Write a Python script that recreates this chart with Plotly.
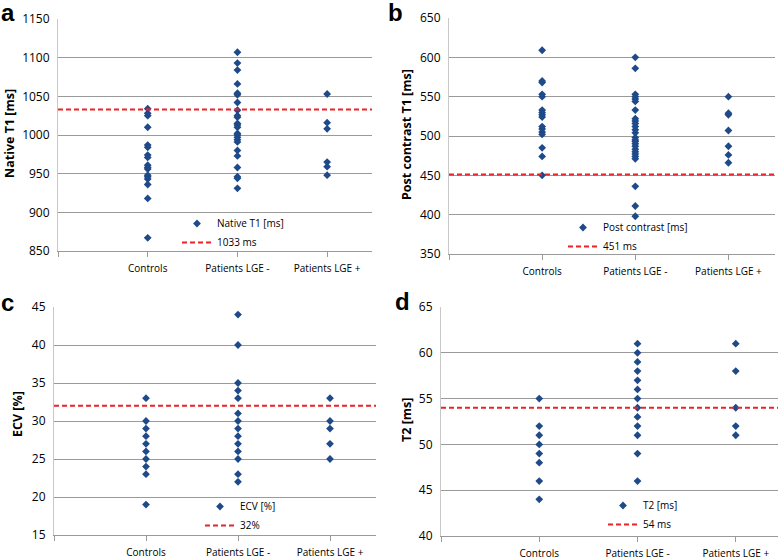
import plotly.graph_objects as go

W, H = 778, 559

categories = ["Controls", "Patients LGE -", "Patients LGE +"]

# Panel a: Native T1 [ms]
native_controls = [1034, 1028, 1025, 1010, 987, 984, 974, 971, 961, 958, 956, 948, 946, 943, 936, 918, 867]
native_lge_neg = [1107, 1093, 1084, 1066, 1054, 1052, 1042, 1032, 1025, 1023, 1015, 1013, 1010,
                  1002, 1000, 997, 994, 991, 980, 973, 958, 946, 944, 931]
native_lge_pos = [1053, 1016, 1008, 965, 959, 948]
native_cutoff = 1033

# Panel b: Post contrast T1 [ms]
post_controls = [609, 570, 568, 553, 550, 533, 530, 527, 524, 512, 509, 505, 502, 485, 474, 450]
post_lge_neg = [600, 586, 553, 550, 547, 544, 533, 522, 519, 516, 512, 508, 504, 498, 495, 493,
                490, 487, 483, 480, 477, 474, 471, 436, 411, 398]
post_lge_pos = [550, 529, 527, 507, 487, 476, 466]
post_cutoff = 451

# Panel c: ECV [%]
ecv_controls = [33, 30, 29, 28, 27, 26, 25, 24, 23, 19]
ecv_lge_neg = [44, 40, 35, 34, 33, 31, 30, 29, 28, 27, 26, 25, 23, 22]
ecv_lge_pos = [33, 30, 29, 27, 25]
ecv_cutoff = 32

# Panel d: T2 [ms]
t2_controls = [55, 52, 51, 50, 49, 48, 46, 44]
t2_lge_neg = [61, 60, 59, 58, 57, 56, 55, 54, 53, 52, 51, 49, 46]
t2_lge_pos = [61, 58, 54, 52, 51]
t2_cutoff = 54

MARKER = "#1f4a8a"
RED = "#e8242a"
GRID = "#9a9a9a"
FONT = "Open Sans"


def px_x(p):
    return p / W


def px_y(p):
    return 1 - p / H


panels = [
    dict(groups=[native_controls, native_lge_neg, native_lge_pos], cutoff=native_cutoff,
         name="Native T1 [ms]", cutname="1033 ms", ytitle="Native T1 [ms]",
         xdom=(58, 372), ydom=(19, 251), yr=(850, 1150), dt=50, xr=3.5,
         leg=(177, 209), title_x=9, title_y=134, letter="a", letter_pos=(-1, 12)),
    dict(groups=[post_controls, post_lge_neg, post_lge_pos], cutoff=post_cutoff,
         name="Post contrast [ms]", cutname="451 ms", ytitle="Post contrast T1 [ms]",
         xdom=(449, 775), ydom=(18, 254), yr=(350, 650), dt=50, xr=3.5,
         leg=(563, 213), title_x=406, title_y=135, letter="b", letter_pos=(386, 12)),
    dict(groups=[ecv_controls, ecv_lge_neg, ecv_lge_pos], cutoff=ecv_cutoff,
         name="ECV [%]", cutname="32%", ytitle="ECV [%]",
         xdom=(54, 376), ydom=(307, 535), yr=(15, 45), dt=5, xr=3.5,
         leg=(200, 492), title_x=17, title_y=414, letter="c", letter_pos=(-1, 302)),
    dict(groups=[t2_controls, t2_lge_neg, t2_lge_pos], cutoff=t2_cutoff,
         name="T2 [ms]", cutname="54 ms", ytitle="T2 [ms]",
         xdom=(441, 778), ydom=(307, 536), yr=(40, 65), dt=5, xr=3.43,
         leg=(603, 491), title_x=406, title_y=420, letter="d", letter_pos=(393, 301)),
]

fig = go.Figure()
annotations = []
layout = {}

for i, p in enumerate(panels, start=1):
    sfx = "" if i == 1 else str(i)
    legname = "legend" if i == 1 else f"legend{i}"
    xs, ys = [], []
    for k, vals in enumerate(p["groups"]):
        xs += [k + 1] * len(vals)
        ys += vals
    fig.add_trace(go.Scatter(
        x=xs, y=ys, mode="markers", name=p["name"],
        marker=dict(symbol="diamond", size=6, color=MARKER),
        xaxis=f"x{sfx}", yaxis=f"y{sfx}", legend=legname, showlegend=True,
    ))
    fig.add_trace(go.Scatter(
        x=[0, p["xr"]], y=[p["cutoff"], p["cutoff"]], mode="lines", name=p["cutname"],
        line=dict(color=RED, width=2, dash="5px,3px"),
        xaxis=f"x{sfx}", yaxis=f"y{sfx}", legend=legname, showlegend=True,
    ))
    x0, x1 = p["xdom"]
    yt, yb = p["ydom"]
    layout[f"xaxis{sfx}"] = dict(
        domain=[px_x(x0), min(1.0, px_x(x1))], anchor=f"y{sfx}", range=[0, p["xr"]],
        tickmode="array", tickvals=[0, 1, 2, 3], ticktext=[""] + categories,
        ticks="outside", ticklen=5, tickcolor=GRID, tickwidth=1,
        showline=True, linecolor=GRID, linewidth=1, showgrid=False, zeroline=False,
        tickfont=dict(family=FONT, size=10, color="#000"), ticklabelstandoff=3,
        automargin=False,
    )
    layout[f"yaxis{sfx}"] = dict(
        domain=[px_y(yb), px_y(yt)], anchor=f"x{sfx}", range=list(p["yr"]),
        tick0=p["yr"][0], dtick=p["dt"], showgrid=True, gridcolor=GRID, gridwidth=1,
        showline=True, linecolor="#c8c8c8", linewidth=1, ticks="", zeroline=False,
        tickfont=dict(family=FONT, size=12, color="#000"), ticklabelstandoff=5,
        automargin=False,
    )
    lx, ly = p["leg"]
    layout[legname] = dict(
        x=px_x(lx), y=px_y(ly), xanchor="left", yanchor="top",
        bgcolor="rgba(0,0,0,0)", font=dict(family=FONT, size=10, color="#000"),
        traceorder="normal", itemwidth=30,
    )
    annotations.append(dict(
        text=p["ytitle"], textangle=-90, xref="paper", yref="paper",
        x=px_x(p["title_x"]), y=px_y(p["title_y"]), xanchor="center", yanchor="middle",
        showarrow=False, font=dict(family=FONT, size=12.5, color="#000", weight="bold"),
    ))
    annotations.append(dict(
        text=f"<b>{p['letter']}</b>", xref="paper", yref="paper",
        x=px_x(p["letter_pos"][0]), y=px_y(p["letter_pos"][1]), xanchor="left", yanchor="middle",
        showarrow=False, font=dict(family="Liberation Sans", size=24, color="#000"),
    ))

fig.update_layout(
    width=W, height=H, margin=dict(l=0, r=0, t=0, b=0, autoexpand=False),
    paper_bgcolor="white", plot_bgcolor="white",
    annotations=annotations, **layout,
)

fig.write_html(
    "out.html",
    config={"displayModeBar": False},
    post_script="document.body.style.margin='0px'; document.body.style.overflow='hidden';",
)
